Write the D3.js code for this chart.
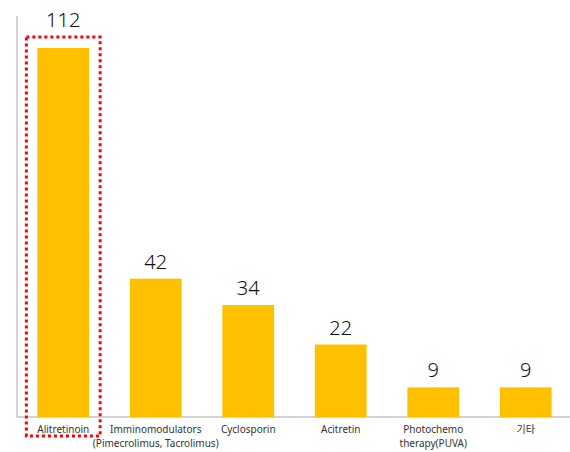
<!DOCTYPE html>
<html>
<head>
<meta charset="utf-8">
<script src="https://cdn.jsdelivr.net/npm/d3@7"></script>
<style>
  body { margin: 0; background: #fff; }
  #graphic { width: 570px; height: 452px; }
  text { font-family: "Noto Sans", "Noto Sans CJK KR", sans-serif; }
</style>
</head>
<body>
<div id="graphic"></div>
<script>
// chart data
var categories = ["Alitretinoin", "Imminomodulators|(Pimecrolimus, Tacrolimus)", "Cyclosporin", "Acitretin", "Photochemo|therapy(PUVA)", "기타"];
var values = [112, 42, 34, 22, 9, 9];
var highlighted = ["Alitretinoin"];

var graphic = d3.select('#graphic');

function drawGraphic() {
  graphic.selectAll("*").remove();

  var width = 570, height = 452;
  var baseline = 417, left = 17;

  var svg = graphic.append("svg")
    .attr("width", width)
    .attr("height", height);

  var x = d3.scaleBand()
    .domain(categories)
    .range([left, left + 6 * 92.5])
    .paddingInner(0.44)
    .paddingOuter(0.22);

  var y = d3.scaleLinear()
    .domain([0, 112])
    .range([baseline, 48]);

  // axes lines
  svg.append("line")
    .attr("x1", left).attr("x2", left)
    .attr("y1", 16).attr("y2", baseline)
    .attr("stroke", "#a6a6a6").attr("stroke-width", 1);

  svg.append("line")
    .attr("x1", left).attr("x2", width)
    .attr("y1", baseline).attr("y2", baseline)
    .attr("stroke", "#a6a6a6").attr("stroke-width", 1);

  var data = d3.zip(categories, values);

  svg.selectAll("rect.bar")
    .data(data)
    .join("rect")
    .attr("class", "bar")
    .attr("x", d => x(d[0]))
    .attr("y", d => y(d[1]))
    .attr("width", x.bandwidth())
    .attr("height", d => baseline - y(d[1]))
    .attr("fill", "#FFC000");

  // highlight box
  var pad = 11;
  data.filter(d => highlighted.indexOf(d[0]) > -1).forEach(function(d) {
    svg.append("rect")
      .attr("x", x(d[0]) - pad)
      .attr("y", y(d[1]) - pad)
      .attr("width", x.bandwidth() + pad * 2)
      .attr("height", baseline - y(d[1]) + pad + 19)
      .attr("fill", "none")
      .attr("stroke", "#FF0000")
      .attr("stroke-width", 3)
      .attr("stroke-dasharray", "3,3");
  });

  // value labels
  svg.selectAll("text.value")
    .data(data)
    .join("text")
    .attr("class", "value")
    .attr("x", d => x(d[0]) + x.bandwidth() / 2)
    .attr("y", d => y(d[1]) - (highlighted.indexOf(d[0]) > -1 ? 21 : 10))
    .attr("text-anchor", "middle")
    .attr("font-size", 20)
    .attr("font-weight", 300)
    .attr("fill", "#111")
    .text(d => d[1]);

  // category labels
  var labels = svg.selectAll("text.cat")
    .data(categories)
    .join("text")
    .attr("class", "cat")
    .attr("text-anchor", "middle")
    .attr("font-size", 10)
    .attr("fill", "#333")
    .attr("transform", d => "translate(" + (x(d) + x.bandwidth() / 2) + "," + (baseline + 16) + ")");

  labels.selectAll("tspan")
    .data(d => d.split("|"))
    .join("tspan")
    .attr("x", 0)
    .attr("dy", (d, i) => i == 0 ? 0 : "1.4em")
    .text(d => d);
}

drawGraphic();
</script>
</body>
</html>
